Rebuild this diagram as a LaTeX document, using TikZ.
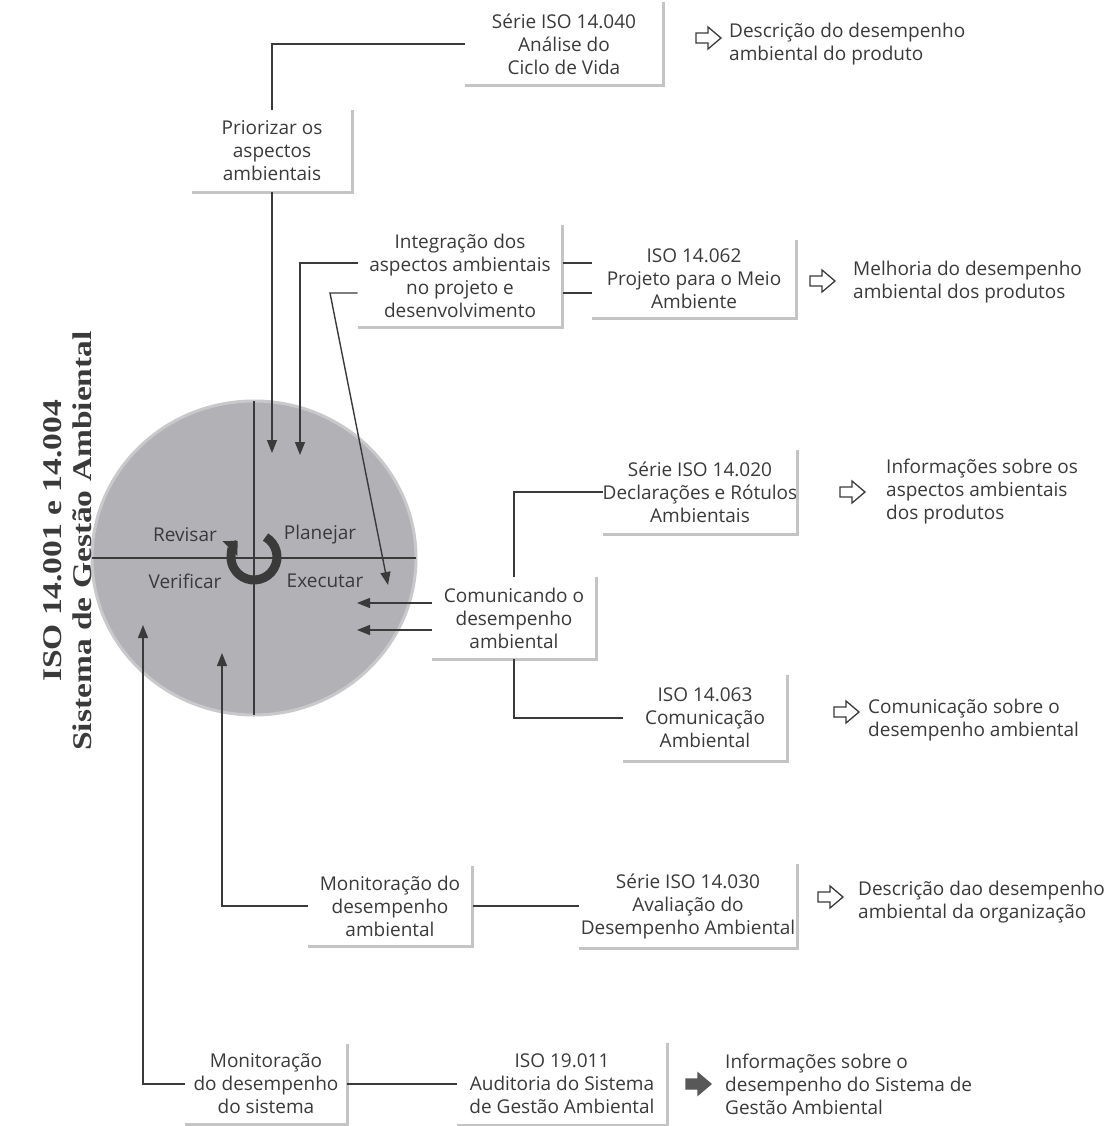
\documentclass[tikz,border=0pt]{standalone}
\usepackage{fontspec}
\setmainfont{Open Sans}
\newfontfamily\titlefont{Liberation Serif}
\usetikzlibrary{arrows.meta,shapes.geometric}
\definecolor{ink}{HTML}{3A3A3A}
\definecolor{disc}{HTML}{B2B2B6}
\definecolor{boxedge}{HTML}{C4C4C4}

\tikzset{
  pics/blockarrow/.style={code={
    \path[pic actions] (-12,-5) -- (0,-5) -- (0,-11) -- (13,0) -- (0,11)
      -- (0,5) -- (-12,5) -- cycle;}}
}
\newcommand{\widetitle}[1]{\scalebox{1.24}[1]{#1}}

\begin{document}
\begin{tikzpicture}[x=1pt,y=-1pt,
  every node/.style={text=ink, font=\fontsize{19}{23}\selectfont},
  box/.style={align=center, inner sep=0pt, outer sep=0pt},
  conn/.style={draw=ink, line width=1.4pt},
  tip/.style={-{Triangle[length=13pt,width=10pt]}},
  note/.style={align=left, anchor=west, inner sep=0pt},
  hollow/.style={draw=ink, fill=white, line width=1.3pt, line join=miter},
  solidarrow/.style={draw=ink!85, fill=ink!85, line width=1.3pt},
  boxshadow/.style={draw=boxedge, line width=3pt},
  axis/.style={draw=ink, line width=1.1pt}
]
\useasboundingbox (0,0) rectangle (1112,1126);
\fill[white] (0,0) rectangle (1112,1126);

% PDCA disc
\node[ellipse, fill=disc, draw=disc!70, line width=3pt, inner sep=0pt, outer sep=0pt,
      minimum width=324pt, minimum height=314pt] (pdca) at (254,558) {};
\draw[axis] (pdca.north) -- (pdca.south);
\draw[axis] (pdca.west) -- (pdca.east);
\node (rev) at (185,535) {Revisar};
\node (pla) at (320,535) {Planejar};
\node (ver) at (185,581) {Verificar};
\node (exe) at (325,581) {Executar};
\draw[draw=ink, line width=9pt, -{Triangle[length=11pt,width=20pt]}]
  ([shift={(-60:23)}]254,557) arc[start angle=-60, end angle=225, radius=23];

% Title
\node[rotate=90, align=center, font=\titlefont\bfseries\fontsize{27}{30}\selectfont]
  (title) at (68,541) {\widetitle{ISO 14.001 e 14.004}\\\widetitle{Sistema de Gestão Ambiental}};

% Boxes
\node[box, minimum width=198pt, minimum height=84pt] (s040) at (564,44)
  {Série ISO 14.040\\Análise do\\Ciclo de Vida};
\node[box, minimum width=160pt, minimum height=82pt] (prio) at (272,151)
  {Priorizar os\\aspectos\\ambientais};
\node[box, minimum width=205pt, minimum height=102pt] (integ) at (460,276)
  {Integração dos\\aspectos ambientais\\no projeto e\\desenvolvimento};
\node[box, minimum width=205pt, minimum height=78pt] (p062) at (694,279)
  {ISO 14.062\\Projeto para o Meio\\Ambiente};
\node[box, minimum width=165pt, minimum height=82pt] (comm) at (514,618)
  {Comunicando o\\desempenho\\ambiental};
\node[box, minimum width=170pt, minimum height=84pt] (s020) at (700,492)
  {Série ISO 14.020\\Declarações e Rótulos\\Ambientais};
\node[box, minimum width=165pt, minimum height=86pt] (s063) at (705,718)
  {ISO 14.063\\Comunicação\\Ambiental};
\node[box, minimum width=165pt, minimum height=80pt] (mon1) at (390,906)
  {Monitoração do\\desempenho\\ambiental};
\node[box, minimum width=218pt, minimum height=84pt] (s030) at (688,906)
  {Série ISO 14.030\\Avaliação do\\Desempenho Ambiental};
\node[box, minimum width=162pt, minimum height=80pt] (mon2) at (266,1084)
  {Monitoração\\do desempenho\\do sistema};
\node[box, minimum width=210pt, minimum height=82pt] (s19) at (562,1084)
  {ISO 19.011\\Auditoria do Sistema\\de Gestão Ambiental};

\foreach \n in {s040,prio,integ,p062,comm,s020,s063,mon1,s030,mon2,s19}
  \draw[boxshadow] (\n.north east) -- (\n.south east) -- (\n.south west);

% Outcome arrows and texts
\pic[hollow] (a040) at (708,38) {blockarrow};
\node[note] (d040) at (729,44) {Descrição do desempenho\\ambiental do produto};
\pic[hollow] (a062) at (822,281) {blockarrow};
\node[note] (d062) at (853,282) {Melhoria do desempenho\\ambiental dos produtos};
\pic[hollow] (a020) at (852,492) {blockarrow};
\node[note] (d020) at (886,492) {Informações sobre os\\aspectos ambientais\\dos produtos};
\pic[hollow] (a063) at (846,712) {blockarrow};
\node[note] (d063) at (868,720) {Comunicação sobre o\\desempenho ambiental};
\pic[hollow] (a030) at (830,897) {blockarrow};
\node[note] (d030) at (858,902) {Descrição dao desempenho\\ambiental da organização};
\pic[solidarrow] (a19) at (698,1084) {blockarrow};
\node[note] (d19) at (725,1084) {Informações sobre o\\desempenho do Sistema de\\Gestão Ambiental};

% Connector end points
\coordinate (tipP) at (272,453);
\coordinate (tipI) at (300,455);
\coordinate (bendD) at (330,293);
\coordinate (tipD) at (388,585);
\coordinate (tipC1) at (357,603);
\coordinate (tipC2) at (357,630);
\coordinate (tipM1) at (222,653);
\coordinate (tipM2) at (143,625);

% Connectors
\draw[conn] (s040.west) -| (prio.north);
\draw[conn, tip] (prio.south) -- (tipP);
\draw[conn, tip] ([yshift=13pt]integ.west) -| (tipI);
\draw[conn, tip] ([yshift=-17pt]integ.west) -- (bendD) -- (tipD);
\draw[conn] ([yshift=13pt]integ.east) -- ([yshift=16pt]p062.west);
\draw[conn] ([yshift=-17pt]integ.east) -- ([yshift=-14pt]p062.west);
\draw[conn, tip] ([yshift=15pt]comm.west) -- (tipC1);
\draw[conn, tip] ([yshift=-12pt]comm.west) -- (tipC2);
\draw[conn] (comm.north) |- (s020.west);
\draw[conn] (comm.south) |- (s063.west);
\draw[conn, tip] (mon1.west) -| (tipM1);
\draw[conn] (mon1.east) -- (s030.west);
\draw[conn, tip] (mon2.west) -| (tipM2);
\draw[conn] (mon2.east) -- (s19.west);
\end{tikzpicture}
\end{document}
